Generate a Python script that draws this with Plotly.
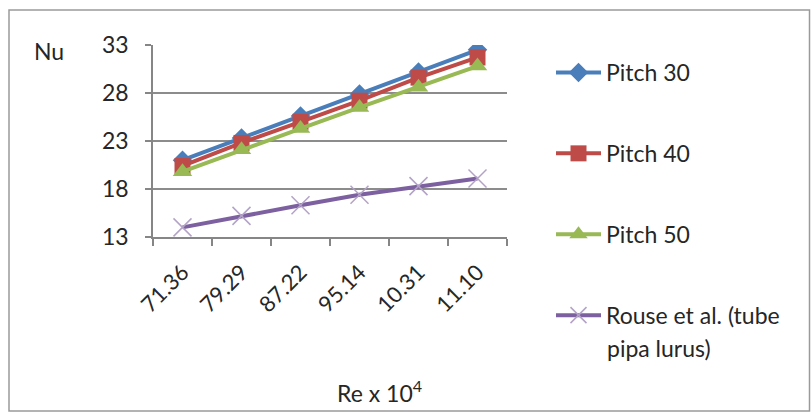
import plotly.graph_objects as go

categories = ["71.36", "79.29", "87.22", "95.14", "10.31", "11.10"]
pitch30 = [21.0, 23.3, 25.6, 27.9, 30.2, 32.5]
pitch40 = [20.4, 22.8, 25.0, 27.2, 29.6, 31.7]
pitch50 = [19.8, 22.1, 24.3, 26.5, 28.6, 30.8]
rouse = [14.0, 15.2, 16.3, 17.4, 18.3, 19.1]
y_ticks = [13, 18, 23, 28, 33]

W, H = 811, 412
L, R, T, B = 153, 507, 45, 237  # plot area in px

FONT = "Lato"
TXT = "#262626"

fig = go.Figure()

series = [
    ("Pitch 30", pitch30, "#4A7EBB", dict(symbol="diamond", size=15)),
    ("Pitch 40", pitch40, "#BE4B48", dict(symbol="square", size=16)),
    ("Pitch 50", pitch50, "#98B954", dict(symbol="triangle-up", size=17)),
]
for i, (name, vals, col, mk) in enumerate(series):
    fig.add_trace(go.Scatter(
        x=categories, y=vals, name=name, mode="lines+markers",
        line=dict(color=col, width=4),
        marker=dict(color=col, **mk),
        legendgroup=f"g{i}",
    ))

fig.add_trace(go.Scatter(
    x=categories, y=rouse, name="Rouse et al. (tube",
    mode="lines+markers",
    line=dict(color="#7D60A0", width=4),
    marker=dict(symbol="x-thin-open", size=18,
                line=dict(color="#B3A2C7", width=1.5), color="#B3A2C7"),
    legendgroup="g3",
))

def px_x(px):
    return (px - L) / (R - L)

def px_y(py):
    return (B - py) / (B - T)

fig.update_layout(
    width=W, height=H,
    margin=dict(l=L, r=W - R, t=T, b=H - B),
    plot_bgcolor="white", paper_bgcolor="white",
    font=dict(family=FONT, color=TXT, size=22),
    showlegend=True,
    legend=dict(
        x=px_x(551), y=px_y(51), xanchor="left", yanchor="top",
        font=dict(size=23, family=FONT, color=TXT),
        tracegroupgap=48, traceorder="grouped",
        bgcolor="rgba(0,0,0,0)", itemwidth=45,
        maxheight=400,
    ),
    xaxis=dict(
        type="category", range=[-0.5, 5.5],
        showline=True, linecolor="#868686", linewidth=1.5,
        ticks="outside", ticklen=7, tickcolor="#868686", tickwidth=1.5,
        tickson="boundaries", ticklabelstandoff=12,
        tickangle=-45, tickfont=dict(size=22, family=FONT, color=TXT),
        showgrid=False, zeroline=False,
    ),
    yaxis=dict(
        range=[13, 33], tickvals=y_ticks,
        showline=True, linecolor="#868686", linewidth=1.5,
        ticks="outside", ticklen=6, tickcolor="#868686", tickwidth=1.5,
        showgrid=True, gridcolor="#8c8c8c", gridwidth=1.5,
        tickfont=dict(size=23, family=FONT, color=TXT),
        ticklabelstandoff=12,
        zeroline=False,
    ),
    annotations=[
        dict(text="Nu", xref="paper", yref="paper", x=px_x(49), y=px_y(51),
             xanchor="center", yanchor="middle", showarrow=False,
             font=dict(size=23, family=FONT, color=TXT)),
        dict(text="Re x 10<sup>4</sup>", xref="paper", yref="paper",
             x=px_x(379), y=px_y(391), xanchor="center", yanchor="middle",
             showarrow=False, font=dict(size=23, family=FONT, color=TXT)),
        dict(text="pipa lurus)", xref="paper", yref="paper",
             x=px_x(605), y=px_y(332), xanchor="left", yanchor="top",
             showarrow=False, font=dict(size=23, family=FONT, color=TXT)),
    ],
    shapes=[
        dict(type="rect", xref="paper", yref="paper",
             x0=px_x(9), x1=px_x(809.5), y0=px_y(411), y1=px_y(10),
             line=dict(color="#9a9a9a", width=1.5), fillcolor="rgba(0,0,0,0)",
             layer="below"),
    ],
)

fig.write_html("out.html")
